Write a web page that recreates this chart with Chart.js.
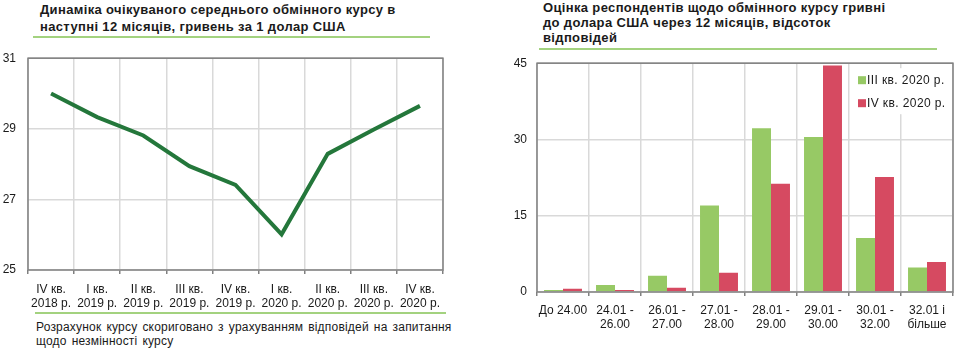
<!DOCTYPE html>
<html>
<head>
<meta charset="utf-8">
<script src="https://cdn.jsdelivr.net/npm/chart.js@4.4.0/dist/chart.umd.min.js"></script>
<style>
body{margin:0;width:961px;height:354px;background:#fff;position:relative;overflow:hidden;font-family:"Liberation Sans",Arial,sans-serif;color:#1a1a1a}
.ttl{position:absolute;font-weight:bold;font-size:13px;letter-spacing:0.35px;white-space:nowrap}
.rule{position:absolute;height:2px;background:#a3d27f}
.box{position:absolute}
.note{position:absolute;left:36px;top:320px;font-size:12px;line-height:14px;letter-spacing:0.2px;word-spacing:1.5px;white-space:nowrap}
</style>
</head>
<body>
<div class="ttl" style="left:40px;top:1px;line-height:17px">Динаміка очікуваного середнього обмінного курсу в<br>наступні 12 місяців, гривень за 1 долар США</div>
<div class="rule" style="left:33px;top:36px;width:397px"></div>
<div class="box" style="left:0;top:39px;width:460px;height:271px"><canvas id="rateChart"></canvas></div>
<div class="rule" style="left:35px;top:312px;width:411px"></div>
<div class="note">Розрахунок курсу скориговано з урахуванням відповідей на запитання<br>щодо незмінності курсу</div>

<div class="ttl" style="left:543px;top:0;line-height:15px">Оцінка респондентів щодо обмінного курсу гривні<br>до долара США через 12 місяців, відсоток<br>відповідей</div>
<div class="rule" style="left:539px;top:48px;width:398px"></div>
<div class="box" style="left:480px;top:46px;width:481px;height:296px"><canvas id="shareChart"></canvas></div>

<script>
// дані графіка 1
var quarters = [['IV кв.','2018 р.'],['I кв.','2019 р.'],['II кв.','2019 р.'],['III кв.','2019 р.'],['IV кв.','2019 р.'],
	['I кв.','2020 р.'],['II кв.','2020 р.'],['III кв.','2020 р.'],['IV кв.','2020 р.']];
var rateExpected = [30.0, 29.33, 28.81, 27.94, 27.41, 26.01, 28.29, 28.98, 29.65];
var rateTicks = [25, 27, 29, 31];

// дані графіка 2
var rateBins = ['До 24.00', ['24.01 -','26.00'], ['26.01 -','27.00'], ['27.01 -','28.00'], ['28.01 -','29.00'],
	['29.01 -','30.00'], ['30.01 -','32.00'], ['32.01 і','більше']];
var seriesNames = ['III кв. 2020 р.', 'IV кв. 2020 р.'];
var shareQ3 = [0.4, 1.4, 3.2, 17.0, 32.2, 30.5, 10.6, 4.8];
var shareQ4 = [0.65, 0.4, 0.85, 3.8, 21.3, 44.55, 22.6, 5.9];
var shareTicks = [0, 15, 30, 45];

Chart.defaults.font.family = '"Liberation Sans", Arial, sans-serif';
Chart.defaults.font.size = 12;
Chart.defaults.color = '#1a1a1a';
Chart.defaults.animation = false;
Chart.defaults.maintainAspectRatio = false;
Chart.defaults.responsive = true;

// рамка навколо області графіка
var frame = {
	id: 'frame',
	afterDraw: function(chart){
		var a = chart.chartArea, ctx = chart.ctx;
		ctx.save();
		ctx.strokeStyle = '#808080';
		ctx.lineWidth = 1.5;
		ctx.strokeRect(a.left, a.top, a.right - a.left, a.bottom - a.top);
		ctx.restore();
	}
};

// легенда всередині області графіка
var innerLegend = {
	id: 'innerLegend',
	afterDraw: function(chart){
		var a = chart.chartArea, ctx = chart.ctx;
		ctx.save();
		ctx.fillStyle = '#fff';
		ctx.fillRect(a.right - 98, a.top + 5, 95, 46);
		ctx.font = '12px "Liberation Sans", Arial, sans-serif';
		ctx.letterSpacing = '0.4px';
		ctx.textBaseline = 'middle';
		chart.data.datasets.forEach(function(ds, i){
			var y = a.top + 17 + i * 23;
			ctx.fillStyle = ds.backgroundColor;
			ctx.fillRect(a.right - 95, y - 4, 8, 8);
			ctx.fillStyle = '#1a1a1a';
			ctx.fillText(ds.label, a.right - 86, y);
		});
		ctx.restore();
	}
};

function fixWidth(w){ return function(s){ s.width = w; }; }
function fixHeight(h){ return function(s){ s.height = h; }; }

new Chart(document.getElementById('rateChart'), {
	type: 'line',
	data: {
		labels: quarters,
		datasets: [{
			data: rateExpected,
			borderColor: '#24773b',
			borderWidth: 4,
			pointRadius: 0,
			tension: 0
		}]
	},
	options: {
		layout: { padding: { top: 7, right: 17, left: 0, bottom: 0 } },
		plugins: { legend: { display: false }, tooltip: { enabled: false } },
		scales: {
			x: {
				offset: true,
				grid: { offset: true, color: '#d9d9d9', lineWidth: 1.5, tickLength: 4, tickColor: '#808080' },
				border: { display: false },
				ticks: { maxRotation: 0, autoSkip: false, padding: 8, font: { size: 12, lineHeight: 1.2 } },
				afterFit: fixHeight(40)
			},
			y: {
				min: 25, max: 31,
				afterBuildTicks: function(s){ s.ticks = rateTicks.map(function(v){ return { value: v }; }); },
				grid: { color: '#d9d9d9', lineWidth: 1.5, drawTicks: false },
				border: { display: false },
				ticks: { padding: 12 },
				afterFit: fixWidth(28)
			}
		}
	},
	plugins: [frame]
});

new Chart(document.getElementById('shareChart'), {
	type: 'bar',
	data: {
		labels: rateBins,
		datasets: [
			{ label: seriesNames[0], data: shareQ3, backgroundColor: '#97c965' },
			{ label: seriesNames[1], data: shareQ4, backgroundColor: '#d64a61' }
		]
	},
	options: {
		layout: { padding: { top: 10, right: 8, left: 0, bottom: 0 } },
		plugins: { legend: { display: false }, tooltip: { enabled: false } },
		datasets: { bar: { categoryPercentage: 0.73, barPercentage: 1 } },
		scales: {
			x: {
				grid: { color: '#d9d9d9', lineWidth: 1.5, tickLength: 4, tickColor: '#808080' },
				border: { display: false },
				ticks: { maxRotation: 0, autoSkip: false, padding: 7, font: { size: 12, lineHeight: 1.2 } },
				afterFit: fixHeight(50)
			},
			y: {
				min: 0, max: 45,
				afterBuildTicks: function(s){ s.ticks = shareTicks.map(function(v){ return { value: v }; }); },
				grid: { color: '#d9d9d9', lineWidth: 1.5, drawTicks: false },
				border: { display: false },
				ticks: { padding: 10 },
				afterFit: fixWidth(57)
			}
		}
	},
	plugins: [frame, innerLegend]
});
</script>
</body>
</html>
